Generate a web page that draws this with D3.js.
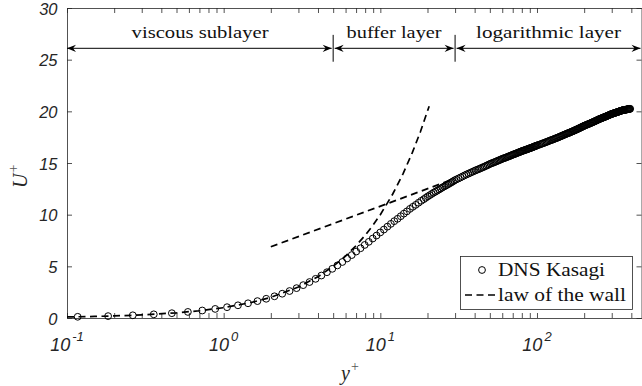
<!DOCTYPE html>
<html><head><meta charset="utf-8">
<script src="https://cdn.jsdelivr.net/npm/d3@7"></script>
<style>body{margin:0;background:#fff} svg{display:block}</style>
</head><body>
<svg id="c" width="642" height="386"></svg>
<script>
// ---------------- data ----------------
const dnsYplus = [0.117,0.183,0.263,0.358,0.467,0.591,0.730,0.883,1.051,1.234,1.431,1.643,1.869,2.110,2.365,2.635,2.920,3.219,3.533,3.862,4.205,4.563,4.935,5.322,5.723,6.139,6.570,7.015,7.475,7.950,8.439,8.943,9.461,9.994,10.54,11.10,11.68,12.27,12.88,13.50,14.13,14.78,15.45,16.13,16.82,17.53,18.25,
18.95,19.5,20.1,20.7,21.3,21.9,22.5,23.1,23.7,24.3,24.9,25.5,26.1,26.7,27.3,27.9,28.5,29.1,29.7,
30.5,31.5,32.5,33.5,34.5,35.5,36.5,37.5,38.5,39.5,40.5,41.5,42.5,43.5,44.5,45.5,46.5,47.5,48.5,49.5,50.5,51.5,52.5,53.5,54.5,55.5,56.5,57.5,58.5,59.5,
60.5,61.5,62.5,63.5,64.5,65.5,66.5,67.5,68.5,69.5,70.5,71.5,72.5,73.5,74.5,75.5,76.5,77.5,78.5,79.5,
80.5,81.5,82.5,83.5,84.5,85.5,86.5,87.5,88.5,89.5,90.5,91.5,92.5,93.5,94.5,95.5,96.5,97.5,98.5,99.5,
101,103,105,107,109,111,113,115,117,119,121,123,125,127,129,131,133,135,137,139,
141,143,145,147,149,151,153,155,157,159,161,163,165,167,169,171,173,175,177,179,
181,183,185,187,189,191,193,195,197,199,
201,203.5,206,208.5,211,213.5,216,218.5,221,223.5,226,228.5,231,233.5,236,238.5,241,243.5,246,248.5,
251,253.5,256,258.5,261,263.5,266,268.5,271,273.5,276,278.5,281,283.5,286,288.5,291,293.5,296,298.5,
301,303.5,306,308.5,311,313.5,316,318.5,321,323.5,326,328.5,331,333.5,336,338.5,341,343.5,346,348.5,
351,353.5,356,358.5,361,363.5,366,368.5,371,373.5,376,378.5,381,383.5,386,388.5,391,393.5];
const dnsUplus = [0.117,0.182,0.262,0.356,0.465,0.588,0.726,0.879,1.046,1.228,1.424,1.635,1.86,2.10,2.35,2.61,2.89,3.18,3.48,3.79,4.11,4.43,4.76,5.09,5.42,5.76,6.09,6.43,6.75,7.07,7.37,7.69,7.98,8.28,8.56,8.84,9.11,9.37,9.60,9.85,10.10,10.32,10.56,10.76,10.95,11.15,11.34,
11.50,11.63,11.77,11.89,12.01,12.13,12.23,12.33,12.43,12.53,12.63,12.72,12.80,12.89,12.97,13.06,13.14,13.22,13.31,
13.40,13.50,13.60,13.70,13.80,13.89,13.97,14.05,14.13,14.21,14.28,14.35,14.41,14.48,14.54,14.61,14.67,14.74,14.80,14.87,14.93,14.98,15.03,15.08,15.13,15.18,15.23,15.28,15.33,15.38,
15.42,15.46,15.50,15.54,15.58,15.62,15.66,15.70,15.74,15.78,15.82,15.85,15.89,15.92,15.96,15.99,16.03,16.06,16.10,16.13,
16.16,16.19,16.22,16.25,16.27,16.30,16.33,16.36,16.38,16.41,16.44,16.47,16.49,16.52,16.55,16.58,16.60,16.63,16.66,16.69,
16.72,16.77,16.81,16.86,16.90,16.95,16.99,17.04,17.08,17.13,17.17,17.21,17.25,17.29,17.33,17.37,17.41,17.45,17.49,17.53,
17.57,17.61,17.65,17.69,17.73,17.77,17.80,17.84,17.87,17.90,17.94,17.97,18.01,18.04,18.07,18.11,18.14,18.18,18.21,18.24,
18.28,18.31,18.35,18.38,18.41,18.45,18.48,18.52,18.55,18.58,
18.61,18.65,18.68,18.71,18.74,18.78,18.81,18.84,18.87,18.91,18.94,18.97,19.00,19.04,19.07,19.10,19.13,19.17,19.20,19.23,
19.26,19.29,19.31,19.34,19.36,19.39,19.41,19.44,19.46,19.49,19.51,19.54,19.56,19.59,19.61,19.64,19.66,19.69,19.71,19.74,
19.76,19.77,19.79,19.81,19.83,19.84,19.86,19.88,19.90,19.91,19.93,19.95,19.97,19.98,20.00,20.02,20.04,20.05,20.07,20.09,
20.10,20.11,20.12,20.13,20.14,20.14,20.15,20.16,20.17,20.18,20.19,20.20,20.21,20.22,20.23,20.23,20.24,20.24];

const linLawYplus = [0.1,0.15,0.2,0.3,0.5,0.7,1,1.5,2,3,4,5,6,7,8,9,10,12,14,16,18,20.5];
const linLawUplus = [0.1,0.15,0.2,0.3,0.5,0.7,1,1.5,2,3,4,5,6,7,8,9,10,12,14,16,18,20.5];
const logLawYplus = [2, 30];
const logLawUplus = [6.89, 13.5];

const yTickValues = [0,5,10,15,20,25,30];
const xTickExponents = [-1,0,1,2];
const regionNames = ["viscous sublayer","buffer layer","logarithmic layer"];
const regionEdges = [0.1, 5, 30, 468];
const legendLabels = ["DNS Kasagi","law of the wall"];

// ---------------- chart ----------------
const svg = d3.select("#c");
const L = 67, R = 642, T = 8, B = 318;
const x = d3.scaleLog().domain([0.1, 468]).range([L, R]);
const y = d3.scaleLinear().domain([0, 30]).range([B, T]);
const axisColor = "#262626";
const serif = "'Liberation Serif', 'Times New Roman', serif";
const sans = "'Liberation Sans', Arial, sans-serif";

svg.append("rect").attr("width",642).attr("height",386).attr("fill","#fff");

const xTickAll = [];
for (let e = -1; e <= 2; e++) for (let k = 1; k <= 9; k++) {
  const v = k * Math.pow(10, e);
  if (v >= 0.1 && v <= 468) xTickAll.push(v);
}

function styleAxis(g){
  g.selectAll("path").attr("stroke", axisColor).attr("stroke-width", 0.8);
  g.selectAll("line").attr("stroke", axisColor).attr("stroke-width", 0.8);
  g.selectAll("text").remove();
}
svg.append("g").attr("transform",`translate(0,${B})`)
  .call(d3.axisBottom(x).tickValues(xTickAll).tickSizeInner(-5).tickSizeOuter(0).tickFormat(""))
  .call(styleAxis);
svg.append("g").attr("transform",`translate(0,${T})`)
  .call(d3.axisTop(x).tickValues(xTickAll).tickSizeInner(-5).tickSizeOuter(0).tickFormat(""))
  .call(styleAxis);
svg.append("g").attr("transform",`translate(${L},0)`)
  .call(d3.axisLeft(y).tickValues(yTickValues).tickSizeInner(-5).tickSizeOuter(0).tickFormat(""))
  .call(styleAxis);
svg.append("g").attr("transform",`translate(${R - 0.5},0)`)
  .call(d3.axisRight(y).tickValues(yTickValues).tickSizeInner(-5).tickSizeOuter(0).tickFormat(""))
  .call(styleAxis);

// y tick labels
svg.append("g").selectAll("text").data(yTickValues).join("text")
  .attr("x", 57.5).attr("y", d => y(d)).attr("dy","0.4em")
  .attr("text-anchor","end")
  .attr("font-family", sans).attr("font-style","italic")
  .attr("font-size",16.5).attr("fill",axisColor)
  .text(d => d);

// x tick labels 10^e
const xl = svg.append("g").selectAll("text").data(xTickExponents).join("text")
  .attr("x", d => x(Math.pow(10,d))).attr("y", 350.5)
  .attr("text-anchor","middle")
  .attr("font-family", sans).attr("font-style","italic")
  .attr("font-size",18).attr("fill",axisColor);
xl.append("tspan").text("10");
xl.append("tspan").attr("dx",2).attr("dy",-10).attr("font-size",13).text(d => d < 0 ? "-" + Math.abs(d) : d);

// axis titles
const xt = svg.append("text").attr("x", 341).attr("y", 380)
  .attr("font-family", serif).attr("font-style","italic").attr("font-size",20).attr("fill",axisColor);
xt.append("tspan").text("y");
xt.append("tspan").attr("dx",1).attr("dy",-9).attr("font-size",14).attr("font-style","normal").attr("fill","#555").text("+");

const yt = svg.append("text").attr("transform","translate(27,188) rotate(-90)")
  .attr("font-family", serif).attr("font-style","italic").attr("font-size",20).attr("fill",axisColor);
yt.append("tspan").text("U");
yt.append("tspan").attr("dx",1).attr("dy",-9).attr("font-size",14).attr("font-style","normal").attr("fill","#555").text("+");

// ---------------- series ----------------
const dns = dnsYplus.map((v,i) => [v, dnsUplus[i]]);
svg.append("g").selectAll("circle").data(dns).join("circle")
  .attr("cx", d => x(d[0])).attr("cy", d => y(d[1])).attr("r", 3.4)
  .attr("fill","none").attr("stroke","#000").attr("stroke-width",1);

const line = d3.line().x(d => x(d[0])).y(d => y(d[1]));
const lin = linLawYplus.map((v,i) => [v, linLawUplus[i]]);
const lg = logLawYplus.map((v,i) => [v, logLawUplus[i]]);
[lin, lg].forEach(s => svg.append("path").attr("d", line(s))
  .attr("fill","none").attr("stroke","#000").attr("stroke-width",1.7).attr("stroke-dasharray","7,4.5"));

// ---------------- region annotations ----------------
const arrowU = 26.1;
function arrowHead(tipX, tipY, dir){
  const p = d3.path();
  p.moveTo(tipX, tipY);
  p.lineTo(tipX - dir*9, tipY - 3.6);
  p.lineTo(tipX - dir*6, tipY);
  p.lineTo(tipX - dir*9, tipY + 3.6);
  p.closePath();
  svg.append("path").attr("d", p.toString()).attr("fill","#000");
}
const ann = svg.append("g");
const widths = [137, 95, 145];
regionNames.forEach((name, i) => {
  const x0 = x(regionEdges[i]) + (i > 0 ? 1.5 : 0), x1 = x(regionEdges[i+1]) - 1.5;
  const yy = y(arrowU);
  ann.append("line").attr("x1", x0).attr("x2", x1).attr("y1", yy).attr("y2", yy)
    .attr("stroke","#000").attr("stroke-width",1);
  arrowHead(x0, yy, -1);
  arrowHead(x1, yy, 1);
  ann.append("text").attr("x", (x(regionEdges[i]) + x(regionEdges[i+1]))/2).attr("y", y(27.05))
    .attr("text-anchor","middle")
    .attr("font-family", serif).attr("font-size",17.5).attr("fill","#111")
    .attr("textLength", widths[i]).attr("lengthAdjust","spacingAndGlyphs")
    .text(name);
});
[regionEdges[1], regionEdges[2]].forEach(v => {
  ann.append("line").attr("x1", x(v)).attr("x2", x(v)).attr("y1", y(27.4)).attr("y2", y(24.8))
    .attr("stroke","#000").attr("stroke-width",1);
});

// ---------------- legend ----------------
const lgd = svg.append("g");
lgd.append("rect").attr("x",460.5).attr("y",256.5).attr("width",172).attr("height",53)
  .attr("fill","#fff").attr("stroke",axisColor).attr("stroke-width",0.8);
lgd.append("circle").attr("cx",482).attr("cy",270).attr("r",3.4)
  .attr("fill","none").attr("stroke","#000").attr("stroke-width",1);
lgd.append("line").attr("x1",465).attr("x2",497).attr("y1",295).attr("y2",295)
  .attr("stroke","#000").attr("stroke-width",1.7).attr("stroke-dasharray","7,4.5");
const lw = [107, 128];
legendLabels.forEach((t,i) => {
  lgd.append("text").attr("x",498).attr("y", 276 + i*25)
    .attr("font-family", serif).attr("font-size",18).attr("fill","#111")
    .attr("textLength", lw[i]).attr("lengthAdjust","spacingAndGlyphs")
    .text(t);
});
</script>
</body></html>
